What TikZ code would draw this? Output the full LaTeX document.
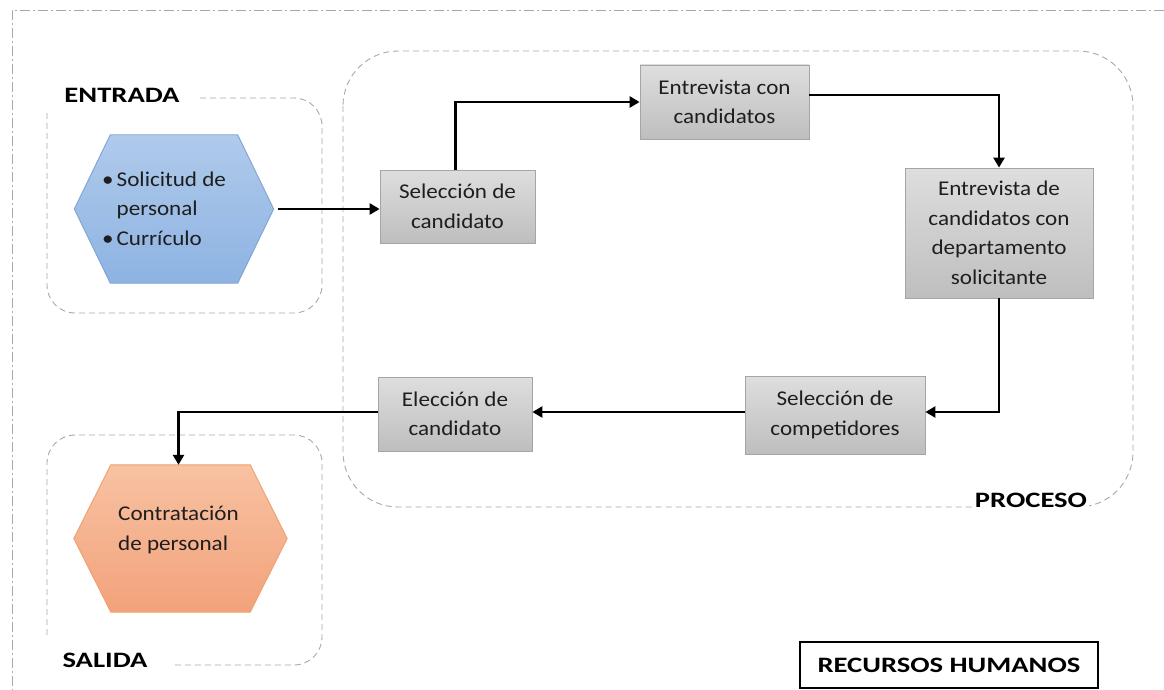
\documentclass[tikz,border=0pt]{standalone}
\usepackage{fontspec}
\setmainfont{Carlito}[FakeStretch=1.1]
\newfontfamily\widefont{Carlito}[FakeStretch=1.3]
\usetikzlibrary{arrows.meta,calc}
\definecolor{dashgray}{HTML}{A8A8A8}
\definecolor{boxtop}{HTML}{DEDEDE}
\definecolor{boxbot}{HTML}{BEBEBE}
\definecolor{boxline}{HTML}{A5A5A5}
\definecolor{bluetop}{HTML}{B0CAEB}
\definecolor{bluebot}{HTML}{8DB3E2}
\definecolor{blueline}{HTML}{7FA3D3}
\definecolor{orgtop}{HTML}{F8C2A2}
\definecolor{orgbot}{HTML}{F2A27B}
\definecolor{orgline}{HTML}{EFA06E}
\definecolor{txt}{HTML}{1E1E1E}
\begin{document}
\begin{tikzpicture}[x=1pt,y=-1pt,
  pfont/.style={font=\fontsize{21}{29.5}\selectfont},
  bfont/.style={font=\widefont\fontsize{22}{26}\selectfont\bfseries},
  procbox/.style={draw=boxline, line width=0.8pt, top color=boxtop, bottom color=boxbot,
    align=center, pfont, text=txt, inner sep=0pt},
  hexholder/.style={inner sep=0pt, draw=none},
  grp/.style={draw=dashgray, line width=0.9pt, dash pattern=on 6pt off 4pt, rounded corners=28pt},
  arr/.style={line width=2.8pt, draw=black, -{Triangle[length=10pt,width=11pt]}},
  lbl/.style={bfont, text=black, inner sep=4pt}
]
\useasboundingbox (0,0) rectangle (1164,690);

% outer border
\draw[dashgray, line width=0.9pt, dash pattern=on 10pt off 3pt on 2pt off 3pt] (1164,10) -- (12,10) -- (12,690);

% group frames
\draw[grp] (200,98) -- (322,98) -- (322,313) -- (47,313) -- (47,113);
\draw[grp] (47,635) -- (47,435) -- (322,435) -- (322,665) -- (173,665);
\draw[grp, rounded corners=55pt] (343,51) rectangle (1133,507);

% group labels
\node[lbl] (lentrada) at (122,95) {ENTRADA};
\node[lbl] (lsalida) at (105,660) {SALIDA};
\node[lbl, fill=white, inner xsep=2pt] (lproceso) at (1031,500) {PROCESO};
\node[draw=black, line width=1.2pt, minimum width=298pt, minimum height=46pt, inner sep=0pt, bfont] (rrhh) at (949,665) {RECURSOS HUMANOS};

% hexagons
\node[hexholder, minimum width=199pt, minimum height=148pt] (inp) at (174,209) {};
\path[top color=bluetop, bottom color=bluebot, draw=blueline, line width=0.9pt]
  (inp.west) -- ([xshift=36pt]inp.north west) -- ([xshift=-36pt]inp.north east) -- (inp.east)
  -- ([xshift=-36pt]inp.south east) -- ([xshift=36pt]inp.south west) -- cycle;
\node[pfont, text=txt, anchor=west, inner sep=0pt] (inptext) at (102,210)
  {\begin{tabular}{@{}l@{\hspace{3pt}}l@{}}\textbullet & Solicitud de\\ & personal\\ \textbullet & Currículo\end{tabular}};

\node[hexholder, minimum width=213pt, minimum height=147pt] (out) at (180.5,538.5) {};
\path[top color=orgtop, bottom color=orgbot, draw=orgline, line width=0.9pt]
  (out.west) -- ([xshift=37pt]out.north west) -- ([xshift=-37pt]out.north east) -- (out.east)
  -- ([xshift=-37pt]out.south east) -- ([xshift=37pt]out.south west) -- cycle;
\node[pfont, text=txt, anchor=west, align=left, inner sep=0pt] (outtext) at (118,530)
  {Contratación\\de personal};

% process boxes
\node[procbox, minimum width=155pt, minimum height=73pt] (sel1) at (457.5,206.5) {Selección de\\candidato};
\node[procbox, minimum width=169pt, minimum height=74pt] (ent1) at (724.5,102) {Entrevista con\\candidatos};
\node[procbox, minimum width=188pt, minimum height=130pt] (ent2) at (999,233) {Entrevista de\\candidatos con\\departamento\\solicitante};
\node[procbox, minimum width=180pt, minimum height=78pt] (selc) at (835,415) {Selección de\\competidores};
\node[procbox, minimum width=154pt, minimum height=74pt] (elec) at (455,414) {Elección de\\candidato};

% connectors
\draw[arr] ([xshift=4pt]inp.east) -- (inp.east -| sel1.west);
\draw[arr] ([xshift=-2pt]sel1.north) |- (ent1.west);
\draw[arr] ([yshift=7pt]ent1.east) -| (ent2.north);
\draw[arr] (ent2.south) |- ([yshift=3pt]selc.east);
\draw[arr] ([yshift=3pt]selc.west) -- ([yshift=3pt]selc.west -| elec.east);
\draw[arr] ([yshift=2pt]elec.west) -| ([xshift=-2pt]out.north);
\end{tikzpicture}
\end{document}
